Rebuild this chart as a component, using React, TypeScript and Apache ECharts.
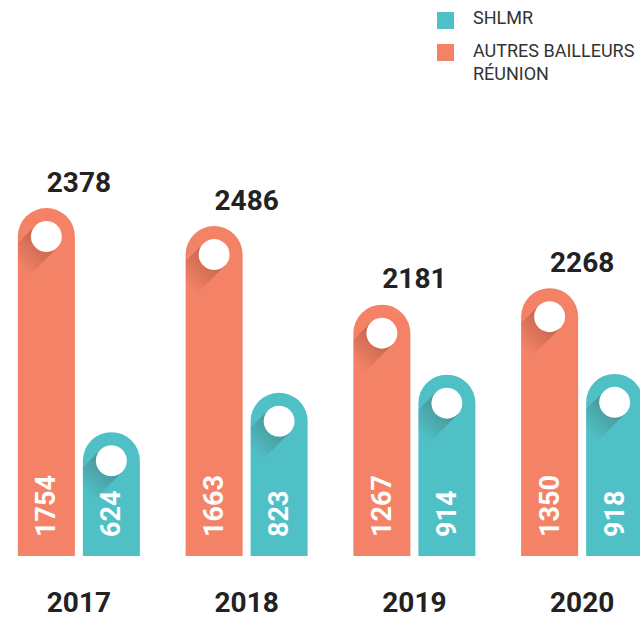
import React, { useEffect, useRef } from 'react';
import * as echarts from 'echarts';

const years = ['2017', '2018', '2019', '2020'];
const autres = [1754, 1663, 1267, 1350];
const shlmr = [624, 823, 914, 918];
const totals = [2378, 2486, 2181, 2268];
const seriesNames = ['AUTRES BAILLEURS RÉUNION', 'SHLMR'];
const legendLabels = ['SHLMR', 'AUTRES BAILLEURS\nRÉUNION'];

const ORANGE = '#F38266';
const TEAL = '#4FC0C6';
const BAR_W = 57;
const GAP = 8;
const OFFSET = (BAR_W + GAP) / 2;
const R_CAP = BAR_W / 2;
const R_DOT = 15.5;
const FONT = 'Roboto, "Noto Sans", sans-serif';
const SHIFT = 5; // canvas starts 5px left of the page

function clipLeft(pts: number[][], left: number): number[][] {
  const out: number[][] = [];
  for (let i = 0; i < pts.length; i++) {
    const a = pts[i];
    const b = pts[(i + 1) % pts.length];
    const ain = a[0] >= left;
    const bin = b[0] >= left;
    if (ain) out.push(a);
    if (ain !== bin) {
      const t = (left - a[0]) / (b[0] - a[0]);
      out.push([left, a[1] + t * (b[1] - a[1])]);
    }
  }
  return out;
}

function makeDots(values: number[], offset: number, name: string) {
  return {
    type: 'custom',
    name,
    z: 5,
    silent: true,
    encode: { x: 0, y: 1 },
    data: values.map((v, i) => [i, v]),
    renderItem: (_params: any, api: any) => {
      const p = api.coord([api.value(0), api.value(1)]);
      const cx = p[0] + offset;
      const cy = p[1] + R_CAP;
      const k = R_DOT / Math.SQRT2;
      const dl = 40 / Math.SQRT2;
      const pts = clipLeft(
        [
          [cx - k, cy - k],
          [cx + k, cy + k],
          [cx + k - dl, cy + k + dl],
          [cx - k - dl, cy - k + dl],
        ],
        cx - R_CAP
      );
      return {
        type: 'group',
        children: [
          {
            type: 'polygon',
            shape: { points: pts },
            style: {
              fill: new echarts.graphic.LinearGradient(
                cx,
                cy,
                cx - dl,
                cy + dl,
                [
                  { offset: 0, color: 'rgba(60,20,10,0.28)' },
                  { offset: 1, color: 'rgba(60,20,10,0)' },
                ],
                true
              ),
            },
          },
          {
            type: 'circle',
            shape: { cx, cy, r: R_DOT },
            style: { fill: '#ffffff' },
          },
        ],
      };
    },
  };
}

export default function App() {
  const ref = useRef<HTMLDivElement>(null);
  useEffect(() => {
    if (!ref.current) return;
    const chart = echarts.init(ref.current, undefined, { renderer: 'svg' });
    const valueLabel = {
      show: true,
      position: 'insideBottom',
      distance: 19,
      rotate: 90,
      align: 'left',
      verticalAlign: 'middle',
      color: '#ffffff',
      fontSize: 27,
      fontWeight: 'bold',
      fontFamily: FONT,
    };
    chart.setOption({
      animation: false,
      backgroundColor: '#ffffff',
      grid: { left: 0, right: 0, top: 0.5, height: 555.5 },
      xAxis: {
        type: 'category',
        data: years,
        axisLine: { show: false },
        axisTick: { show: false },
        axisLabel: {
          margin: 32,
          fontSize: 28,
          fontWeight: 'bold',
          fontFamily: FONT,
          color: '#222222',
        },
      },
      yAxis: { type: 'value', min: 0, max: 2800, show: false },
      series: [
        {
          type: 'bar',
          name: seriesNames[0],
          data: autres,
          barWidth: BAR_W,
          barGap: (GAP / BAR_W) * 100 + '%',
          itemStyle: { color: ORANGE, borderRadius: [R_CAP, R_CAP, 0, 0] },
          label: valueLabel,
        },
        {
          type: 'bar',
          name: seriesNames[1],
          data: shlmr,
          barWidth: BAR_W,
          barGap: (GAP / BAR_W) * 100 + '%',
          itemStyle: { color: TEAL, borderRadius: [R_CAP, R_CAP, 0, 0] },
          label: valueLabel,
        },
        makeDots(autres, -OFFSET, 'dots-a'),
        makeDots(shlmr, OFFSET, 'dots-s'),
        {
          type: 'custom',
          name: 'totals',
          z: 6,
          silent: true,
          encode: { x: 0, y: 1 },
          data: autres.map((v, i) => [i, v, totals[i]]),
          renderItem: (_params: any, api: any) => {
            const p = api.coord([api.value(0), api.value(1)]);
            return {
              type: 'text',
              x: p[0],
              y: p[1] - 26,
              style: {
                text: String(api.value(2)),
                align: 'center',
                verticalAlign: 'middle',
                fontSize: 28,
                fontWeight: 'bold',
                fontFamily: FONT,
                fill: '#222222',
              },
            };
          },
        },
      ],
      graphic: [
        { type: 'rect', shape: { x: 437 + SHIFT, y: 12, width: 17, height: 17 }, style: { fill: TEAL } },
        {
          type: 'text',
          x: 473 + SHIFT,
          y: 17,
          style: { text: legendLabels[0], fill: '#333333', fontSize: 18, fontFamily: FONT, verticalAlign: 'middle' },
        },
        { type: 'rect', shape: { x: 437 + SHIFT, y: 44, width: 17, height: 17 }, style: { fill: ORANGE } },
        {
          type: 'text',
          x: 473 + SHIFT,
          y: 38.5,
          style: {
            text: legendLabels[1],
            fill: '#333333',
            fontSize: 18,
            lineHeight: 23,
            fontFamily: FONT,
            verticalAlign: 'top',
          },
        },
      ],
    });
    return () => chart.dispose();
  }, []);
  return (
    <div
      ref={ref}
      style={{ position: 'fixed', left: -SHIFT, top: 0, width: 671, height: 617, background: '#fff' }}
    />
  );
}
